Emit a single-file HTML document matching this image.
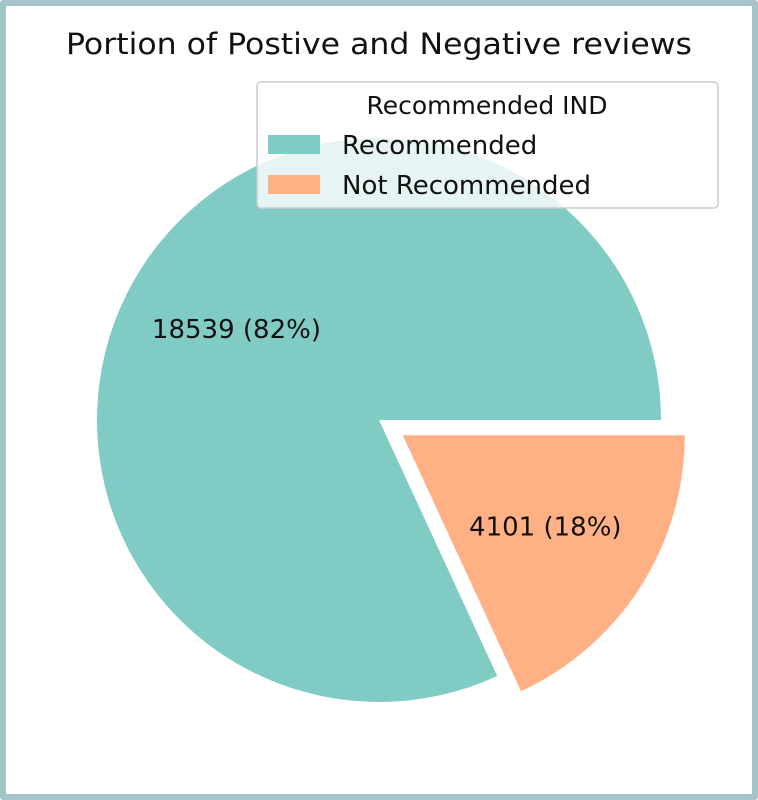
<!DOCTYPE html>
<html><head><meta charset="utf-8"><style>
html,body{margin:0;padding:0;background:#fff;}
#frame{position:absolute;left:0;top:0;width:746px;height:788px;border:6px solid #a3c5ca;border-radius:3px;background:#fff;}
svg{position:absolute;left:0;top:0;}
text{font-family:"DejaVu Sans","Liberation Sans",sans-serif;fill:#111;}
</style></head><body>
<div id="frame"></div>
<svg id="chart" width="758" height="800">
<text x="379" y="54" font-size="29" text-anchor="middle" textLength="626" lengthAdjust="spacingAndGlyphs">Portion of Postive and Negative reviews</text>
<g id="slices"></g>
<g>
<rect x="257" y="82" width="461" height="126" rx="4" fill="#fff" fill-opacity="0.8" stroke="#ccc" stroke-width="1.5"/>
<text x="487" y="114" font-size="25" text-anchor="middle">Recommended IND</text>
<g id="legend-items"></g>
</g>
</svg>
<script>
const categories = ["Recommended", "Not Recommended"];
const counts = [18539, 4101];
const explodeFactors = [0, 0.1];
const colors = ["#80cbc4", "#ffb085"];

const NS = "http://www.w3.org/2000/svg";
const cx = 379, cy = 420, r = 282;
const total = counts.reduce((a, b) => a + b, 0);
const g = document.getElementById("slices");
let start = 0;
counts.forEach((v, i) => {
  const sweep = v / total * 2 * Math.PI;
  const mid = start + sweep / 2;
  const off = explodeFactors[i] * r;
  const ox = cx + off * Math.cos(mid), oy = cy - off * Math.sin(mid);
  const x1 = ox + r * Math.cos(start), y1 = oy - r * Math.sin(start);
  const x2 = ox + r * Math.cos(start + sweep), y2 = oy - r * Math.sin(start + sweep);
  const large = sweep > Math.PI ? 1 : 0;
  const p = document.createElementNS(NS, "path");
  p.setAttribute("d", `M${ox},${oy} L${x1},${y1} A${r},${r} 0 ${large} 0 ${x2},${y2} Z`);
  p.setAttribute("fill", colors[i]);
  
  
  g.appendChild(p);
  const t = document.createElementNS(NS, "text");
  t.setAttribute("x", ox + 0.6 * r * Math.cos(mid));
  t.setAttribute("y", oy - 0.6 * r * Math.sin(mid) + 9);
  t.setAttribute("font-size", "26");
  t.setAttribute("text-anchor", "middle");
  t.textContent = v + " (" + Math.round(v / total * 100) + "%)";
  
  
  g.appendChild(t);
  start += sweep;
});
const lg = document.getElementById("legend-items");
categories.forEach((c, i) => {
  const y = 135 + i * 40;
  const rc = document.createElementNS(NS, "rect");
  rc.setAttribute("x", 268); rc.setAttribute("y", y); rc.setAttribute("width", 52); rc.setAttribute("height", 19);
  rc.setAttribute("fill", colors[i]);
  
  
  lg.appendChild(rc);
  const t = document.createElementNS(NS, "text");
  t.setAttribute("x", 342); t.setAttribute("y", y + 19); t.setAttribute("font-size", "26");
  t.textContent = c;
  
  
  lg.appendChild(t);
});
</script>
</body></html>
